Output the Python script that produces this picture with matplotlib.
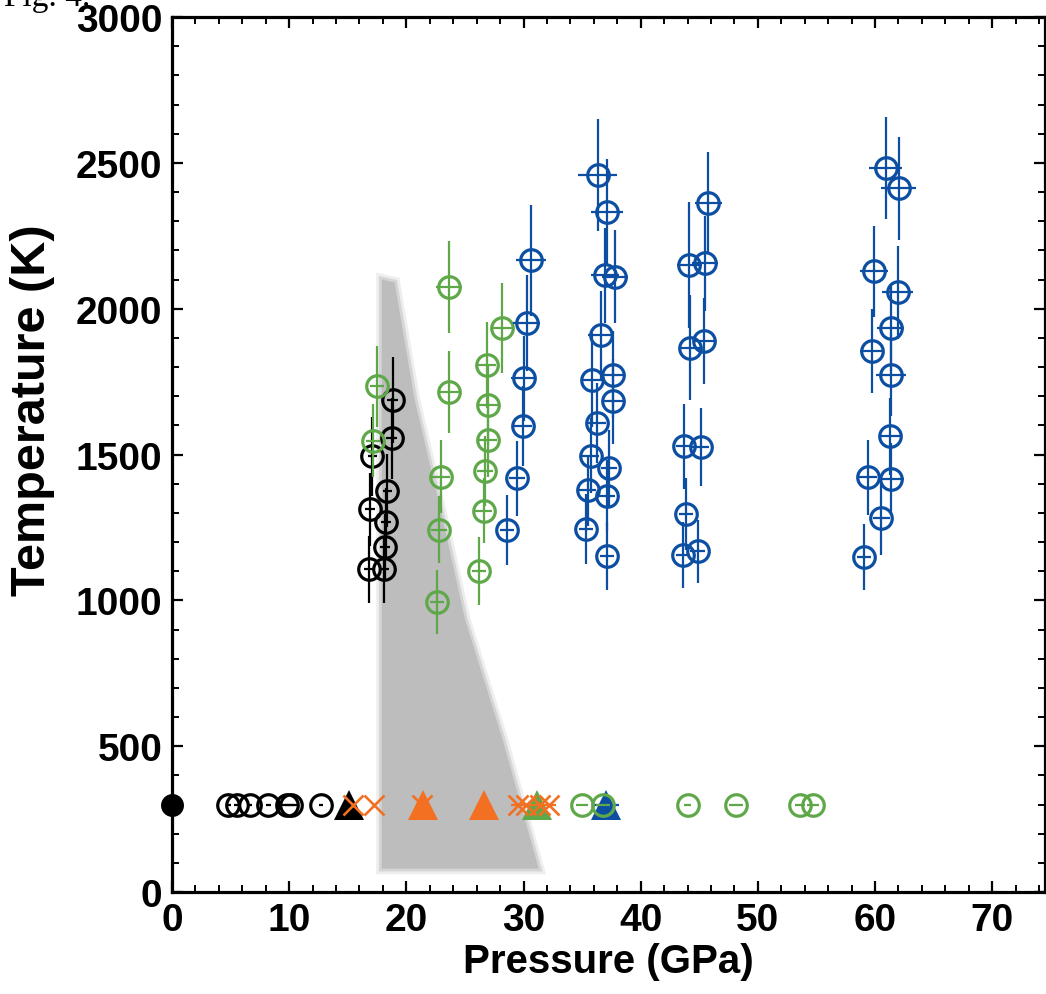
import matplotlib
matplotlib.use("Agg")
import matplotlib.pyplot as plt
from matplotlib.ticker import MultipleLocator

# heated runs, black series
black_p = [18.83, 18.74, 17.09, 18.37, 16.89, 18.26, 18.17, 16.81, 18.12]
black_t = [1688, 1555, 1494, 1376, 1313, 1267, 1182, 1107, 1107]
black_perr = [0.5, 0.5, 0.4, 0.4, 0.4, 0.4, 0.4, 0.4, 0.4]
black_terr = [147, 140, 135, 125, 125, 118, 115, 115, 115]

# heated runs, green series
green_p = [17.52, 17.18, 23.66, 23.66, 22.95, 22.81, 22.58, 28.16, 26.88, 26.99, 26.94, 26.71, 26.59, 26.22]
green_t = [1734, 1547, 2075, 1715, 1424, 1242, 995, 1933, 1808, 1670, 1550, 1445, 1307, 1101]
green_perr = [0.6, 0.6, 1.1, 0.8, 0.8, 0.7, 0.6, 0.9, 0.8, 0.8, 0.8, 0.7, 0.7, 0.6]
green_terr = [138, 125, 158, 140, 126, 115, 110, 155, 147, 137, 128, 120, 112, 117]

# heated runs, blue series
blue_p = [30.63, 30.26, 30.01, 29.92, 29.46, 28.56,
          36.32, 37.09, 36.97, 37.80, 36.58, 35.84, 37.63, 37.66, 36.24, 35.72, 37.31, 35.47, 37.14, 35.32, 37.09,
          45.77, 44.14, 45.48, 44.20, 45.39, 43.71, 45.11, 43.83, 43.63, 44.85,
          60.90, 62.03, 59.92, 61.92, 61.32, 59.70, 61.32, 61.26, 59.36, 61.35, 60.55, 59.07]
blue_t = [2166, 1950, 1761, 1599, 1419, 1241,
          2458, 2330, 2115, 2110, 1911, 1756, 1774, 1682, 1608, 1496, 1454, 1378, 1359, 1245, 1153,
          2362, 2150, 2155, 1866, 1889, 1528, 1527, 1296, 1155, 1168,
          2481, 2413, 2128, 2056, 1933, 1856, 1774, 1562, 1422, 1416, 1281, 1148]
blue_perr = [1.3, 1.14, 1.05, 0.8, 0.7, 0.6,
             1.7, 1.37, 1.2, 1.14, 1.05, 0.9, 0.9, 0.8, 0.8, 0.7, 0.7, 0.7, 0.7, 0.6, 0.6,
             1.14, 1.08, 1.14, 0.9, 0.9, 0.7, 0.7, 0.6, 0.6, 0.6,
             1.38, 1.5, 1.17, 1.3, 1.17, 0.95, 1.28, 0.9, 0.8, 1.1, 0.7, 0.6]
blue_terr = [190, 165, 146, 137, 129, 120,
             192, 183, 163, 160, 151, 160, 150, 145, 137, 128, 129, 122, 122, 120, 117,
             175, 215, 163, 180, 147, 145, 134, 122, 114, 109,
             175, 177, 157, 160, 148, 144, 143, 131, 128, 123, 126, 114]

# room temperature runs
amb_t = 300
black_fill_p = [0.0]
black_amb_p = [4.81, 5.58, 6.66, 8.22, 9.78, 10.13, 12.71]
black_amb_perr = [0.2, 0.3, 0.2, 0.2, 0.6, 0.5, 0.2]
black_tri_p = [15.13]
orange_tri_p = [21.39, 26.65]
orange_tri_perr = [0.6, 0.6]
orange_x_p = [15.47, 17.24, 21.3, 29.5, 30.2, 31.4, 32.2]
orange_x_perr = [0, 0, 0, 0.6, 0.6, 0.6, 0.6]
green_tri_p = [31.17]
green_amb_p = [35.0, 36.75, 44.0, 48.12, 53.58, 54.72]
green_amb_perr = [0.5, 0.6, 0.3, 0.6, 0.4, 0.5]
blue_tri_p = [37.0]
blue_tri_perr = [1.15]

# shaded field
region_p = [17.9, 19.0, 20.7, 23.1, 25.0, 28.2, 31.3, 17.9]
region_t = [2100, 2090, 1690, 1280, 936, 525, 80, 80]

BLACK = '#000000'
GREEN = '#5FA84A'
BLUE = '#0B4EA2'
ORANGE = '#F37022'
GRAY = '#BDBDBD'


def open_circles(ax, p, t, perr, terr, color, z):
    ax.errorbar(p, t, xerr=perr, yerr=terr, fmt='o', ms=15.5, mfc='none', mec=color, mew=2.3,
                ecolor=color, elinewidth=1.6, capsize=0, zorder=z)


def main():
    plt.rcParams['font.family'] = ['Liberation Sans', 'DejaVu Sans']
    plt.rcParams['font.weight'] = 'bold'

    fig = plt.figure(figsize=(10.46, 9.95), dpi=100)
    ax = fig.add_axes([0.1644, 0.1025, 0.8346, 0.8794])

    # shaded field with a soft rim
    ax.fill(region_p, region_t, fc='none', ec=GRAY, lw=8, alpha=0.25, zorder=1)
    ax.fill(region_p, region_t, fc='none', ec=GRAY, lw=4, alpha=0.5, zorder=1)
    ax.fill(region_p, region_t, fc=GRAY, ec='none', zorder=1.5)

    # heated data
    open_circles(ax, black_p, black_t, black_perr, black_terr, BLACK, 3)
    open_circles(ax, green_p, green_t, green_perr, green_terr, GREEN, 4)
    open_circles(ax, blue_p, blue_t, blue_perr, blue_terr, BLUE, 5)

    # room temperature data
    ax.plot(black_fill_p, [amb_t] * len(black_fill_p), 'o', ms=15.5, color=BLACK, clip_on=False, zorder=6)
    ax.errorbar(black_amb_p, [amb_t] * len(black_amb_p), xerr=black_amb_perr, fmt='o', ms=15.5,
                mfc='none', mec=BLACK, mew=2.3, ecolor=BLACK, elinewidth=1.6, capsize=0, zorder=6)
    ax.plot(black_tri_p, [amb_t] * len(black_tri_p), '^', ms=22, color=BLACK, mew=0, zorder=6)
    ax.errorbar(orange_tri_p, [amb_t] * len(orange_tri_p), xerr=orange_tri_perr, fmt='^', ms=22,
                color=ORANGE, mew=0, ecolor=ORANGE, elinewidth=1.6, capsize=0, zorder=6)
    ax.plot(green_tri_p, [amb_t] * len(green_tri_p), '^', ms=22, color=GREEN, mew=0, zorder=6)
    ax.errorbar(blue_tri_p, [amb_t] * len(blue_tri_p), xerr=blue_tri_perr, fmt='^', ms=22,
                color=BLUE, mew=0, ecolor=BLUE, elinewidth=1.6, capsize=0, zorder=6)
    ax.errorbar(green_amb_p, [amb_t] * len(green_amb_p), xerr=green_amb_perr, fmt='o', ms=15.5,
                mfc='none', mec=GREEN, mew=2.3, ecolor=GREEN, elinewidth=1.6, capsize=0, zorder=7)
    ax.errorbar(orange_x_p, [amb_t] * len(orange_x_p), xerr=orange_x_perr, fmt='x', ms=15, mew=1.9,
                color=ORANGE, ecolor=ORANGE, elinewidth=1.6, capsize=0, zorder=8)

    # axes
    ax.set_xlim(0, 74.5)
    ax.set_ylim(0, 3000)
    ax.xaxis.set_major_locator(MultipleLocator(10))
    ax.xaxis.set_minor_locator(MultipleLocator(2))
    ax.yaxis.set_major_locator(MultipleLocator(500))
    ax.yaxis.set_minor_locator(MultipleLocator(100))
    ax.tick_params(which='both', direction='in', top=True, right=True, labelsize=28, pad=7)
    ax.tick_params(which='major', length=8, width=1.6)
    ax.tick_params(which='minor', length=5, width=1.4)
    for s in ax.spines.values():
        s.set_linewidth(2.3)
    for lab in ax.get_xticklabels() + ax.get_yticklabels():
        lab.set_fontweight('bold')

    ax.set_xlabel('Pressure (GPa)', fontsize=29, fontweight='bold', labelpad=3)
    fig.text(33 / 1046, 1 - 410 / 995, 'Temperature (K)', rotation=90, fontsize=35,
             fontweight='bold', ha='center', va='center')

    fig.text(0.004, 1 - 6 / 995, 'Fig. 4.', family='Liberation Serif', fontweight='normal',
             fontsize=24, va='baseline', ha='left')

    fig.savefig('out.png', dpi=100)


if __name__ == "__main__":
    main()
